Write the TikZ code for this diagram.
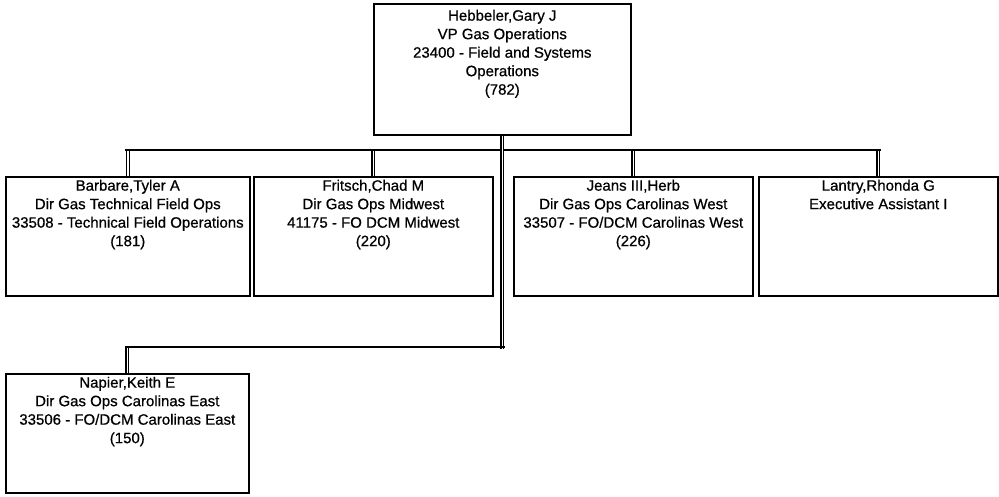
\documentclass[tikz,border=0pt]{standalone}
\usepackage{fontspec}
\setmainfont[FakeBold=0.6]{Liberation Sans}
\newcommand\orgtext[4]{\parbox[c][#2pt][t]{#1pt}{\centering\fontsize{15}{18.5}\selectfont\vspace*{#3pt}#4\par}}
\tikzset{
  orgbox/.style={draw, line width=1.6pt, inner sep=0pt, anchor=north west, fill=white},
  conn/.style={line width=1.1pt, double, double distance=1.6pt, line cap=butt},
  bus/.style={line width=1.4pt}
}
\begin{document}
\begin{tikzpicture}[x=1pt,y=-1pt]
\path[use as bounding box, fill=white] (0,0) rectangle (999,497);
% boxes
\node[orgbox] (top) at (373,3) {\orgtext{257}{131}{6}{Hebbeler,Gary J\\VP Gas Operations\\23400 - Field and Systems\\Operations\\(782)}};
\node[orgbox] (barbare) at (5,176) {\orgtext{244}{119}{3}{Barbare,Tyler A\\Dir Gas Technical Field Ops\\33508 - Technical Field Operations\\(181)}};
\node[orgbox] (fritsch) at (253,176) {\orgtext{239}{119}{3}{Fritsch,Chad M\\Dir Gas Ops Midwest\\41175 - FO DCM Midwest\\(220)}};
\node[orgbox] (jeans) at (513,176) {\orgtext{239}{119}{3}{Jeans III,Herb\\Dir Gas Ops Carolinas West\\33507 - FO/DCM Carolinas West\\(226)}};
\node[orgbox] (lantry) at (758,176) {\orgtext{239}{119}{3}{Lantry,Rhonda G\\Executive Assistant I}};
\node[orgbox] (napier) at (5,373) {\orgtext{243}{119}{3}{Napier,Keith E\\Dir Gas Ops Carolinas East\\33506 - FO/DCM Carolinas East\\(150)}};
% bus coordinates
\coordinate (busA) at (0,150);
\coordinate (busB) at (0,347);
% level-2 drops
\foreach \n in {barbare,fritsch,jeans,lantry}
  \draw[conn] (\n.north |- busA) -- (\n.north);
\draw[bus] ([xshift=-2.5pt]barbare.north |- busA) -- ([xshift=2.5pt]lantry.north |- busA);
% trunk
\draw[conn] (top.south) -- ([yshift=-1.5pt]top.south |- busB);
\draw[conn] (napier.north |- busB) -- (napier.north);
\draw[bus] ([xshift=-2.5pt]napier.north |- busB) -- ([xshift=2.5pt]top.south |- busB);
\end{tikzpicture}
\end{document}
